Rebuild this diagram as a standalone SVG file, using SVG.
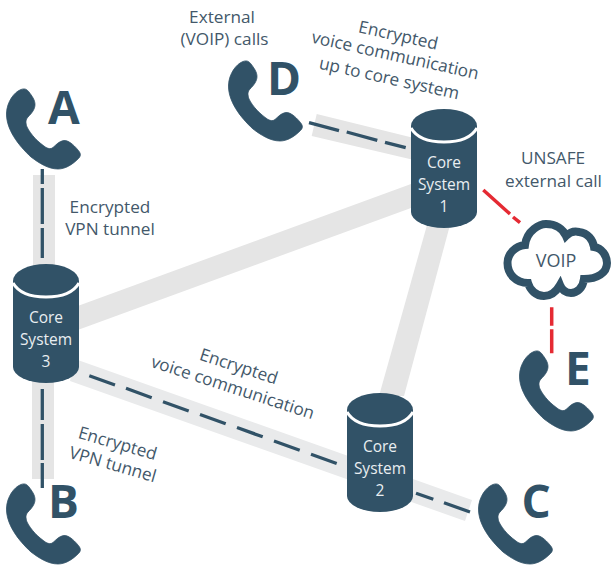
<svg xmlns="http://www.w3.org/2000/svg" width="611" height="565" viewBox="0 0 611 565">
<style>
.t{font-family:"Open Sans","Liberation Sans",sans-serif;font-size:17.200px;fill:#43586a;text-anchor:middle}
.c{font-family:"Open Sans","Liberation Sans",sans-serif;font-size:15.500px;fill:#e9eef1;text-anchor:middle}
.l{font-family:"Open Sans","Liberation Sans",sans-serif;font-size:46px;font-weight:700;fill:#315267}
.b{fill:#e5e5e5}
.d{fill:none;stroke:#315267;stroke-width:3.300}
.r{fill:none;stroke:#e52a33;stroke-width:3.500}
.k{fill:#315267}
</style>
<defs>
<path id="phone" class="k" stroke="#315267" stroke-width="0.800" d="M15 .5C19-1 21 .5 23 3C26 7 29 11 29 15.500C29 20 26 24 22 28C19.500 30.500 19.500 34 21 38C25 46 32 53 40 58.500C43 60 45 60 47 58.500C50 56 53 52 58 51.500C63 51 70 58 73.500 63C75 65.500 74.500 67.500 72.500 69.500C66 76 59 80 52 80C42 80 33 74 25 68C12 56 0 40 .5 24C1 13 8 3 15 .5Z"/>
<g id="cyl">
<path class="k" d="M0 17A33 17 0 0 1 66 17V103A33 16 0 0 1 0 103Z"/>
<path d="M0 19Q8 33 33 33Q58 33 66 19" fill="none" stroke="#fff" stroke-width="3"/>
</g>
</defs>
<g id="connectors">
<rect class="b" x="33" y="175" width="22" height="92"/>
<rect class="b" x="32" y="380" width="22" height="99"/>
<polygon class="b" points="75,307 411,184 411,208 75,331"/>
<polygon class="b" points="427,225 450,225 404,396 379,396"/>
<polygon points="75,359 472,500 465,521 70,381" fill="#e9eaeb"/>
<polygon class="b" points="316.700,114 414,138 414,160 311.700,136"/>
<path class="d" d="M42.300 169V184M42.300 188V224M42.300 228V258"/>
<path class="d" d="M42.300 389V420M42.300 424V460M42.300 463V488"/>
<path class="d" d="M89.300 375.700L115 385M126 388.300L151.700 397.700M163 401.700L188.700 411M200 414.500L225.700 423.700M237 427.500L262.700 436.800M274 441L299.700 450.200M311 454.300L336.700 463.500M416 493.300L433.300 499.300M444 502.700L470 512"/>
<path class="d" d="M309 122.700L339 130.700M346.700 132L377.300 140.300M385 142.300L405.700 147.700"/>
<path class="r" d="M483.300 190L510 214M513 217L520 222.700"/>
<path class="r" d="M551.700 307.300V325.700M551.700 329.300V353.300"/>
</g>
<g id="phone-a"><use href="#phone" x="6" y="89"/><text class="l" x="48" y="124">A</text></g>
<g id="phone-b"><use href="#phone" x="6" y="484"/><text class="l" x="48" y="518">B</text></g>
<g id="phone-c"><use href="#phone" x="478" y="484"/><text class="l" x="521.500" y="518">C</text></g>
<g id="phone-d"><use href="#phone" x="228" y="61"/><text class="l" x="267" y="95">D</text></g>
<g id="phone-e"><use href="#phone" x="519" y="351"/><text class="l" x="565" y="385">E</text></g>
<g id="core-1"><use href="#cyl" x="411" y="109"/><text class="c"><tspan x="444" y="168">Core</tspan><tspan x="444" y="190">System</tspan><tspan x="444" y="212">1</tspan></text></g>
<g id="core-2"><use href="#cyl" x="347" y="393"/><text class="c"><tspan x="380" y="452">Core</tspan><tspan x="380" y="474">System</tspan><tspan x="380" y="496">2</tspan></text></g>
<g id="core-3"><use href="#cyl" x="13" y="264"/><text class="c"><tspan x="46" y="323">Core</tspan><tspan x="46" y="345">System</tspan><tspan x="46" y="367">3</tspan></text></g>
<g id="voip">
<path d="M525 245C527 230 540 224 546 224C556 224 563 229 566 236C570 232 575 231 579 232C588 233 593 240 594 247C602 248 607 256 607 263C607 273 597 279 584 279C583 288 577 293 571 293C566 293 562 290 560 285C556 292 551 296 544 296C536 296 530 290 528 283C516 283 507.500 274 507.500 263C507.500 254 515 246 525 245Z" fill="#fff" stroke="#315267" stroke-width="8"/>
<text class="t" x="556" y="266.700" style="font-size:18px">VOIP</text>
</g>
<g id="labels">
<text class="t"><tspan x="222" y="23">External</tspan><tspan x="224.500" y="44.700">(VOIP) calls</tspan></text>
<text class="t"><tspan x="553" y="164">UNSAFE</tspan><tspan x="553.500" y="186.700">external call</tspan></text>
<text class="t"><tspan x="110" y="213">Encrypted</tspan><tspan x="110" y="235">VPN tunnel</tspan></text>
<text class="t" transform="translate(397 41) rotate(12.500)">Encrypted</text>
<text class="t" transform="translate(394 61) rotate(12.500)">voice communication</text>
<text class="t" transform="translate(388 84) rotate(12.500)">up to core system</text>
<text class="t" transform="translate(237 372) rotate(18)">Encrypted</text>
<text class="t" transform="translate(231 393) rotate(18)">voice communication</text>
<text class="t" transform="translate(116 449) rotate(16)">Encrypted</text>
<text class="t" transform="translate(111 470) rotate(16)">VPN tunnel</text>
</g>
</svg>
